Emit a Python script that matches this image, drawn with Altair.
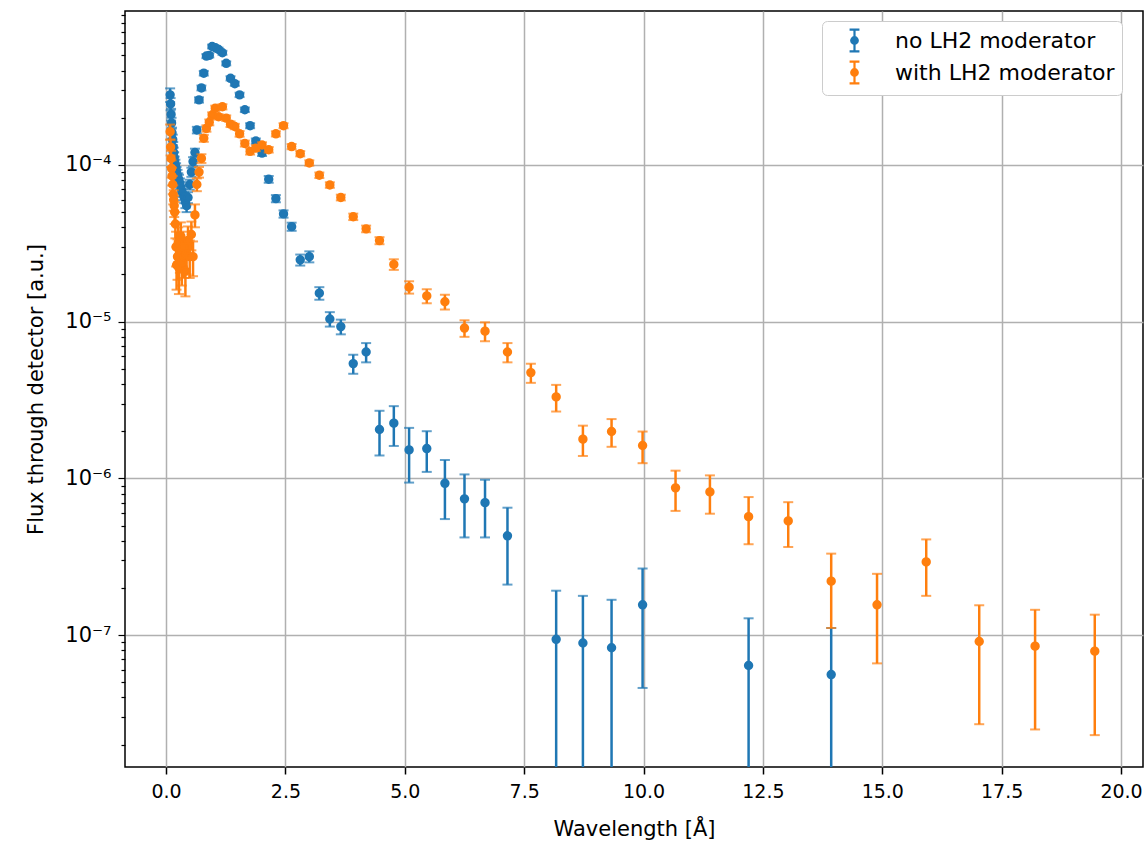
import altair as alt
import pandas as pd

# Wavelength bin centres [Å] (shared by both series)
wavelength = [
    0.085, 0.095, 0.105, 0.115, 0.125, 0.14, 0.15, 0.16, 0.17, 0.18,
    0.195, 0.21, 0.22, 0.24, 0.255, 0.27, 0.29, 0.31, 0.33, 0.355,
    0.38, 0.405, 0.43, 0.46, 0.495, 0.53, 0.565, 0.605, 0.645, 0.69,
    0.74, 0.79, 0.845, 0.905, 0.965, 1.03, 1.10, 1.18, 1.26, 1.35,
    1.44, 1.54, 1.65, 1.76, 1.88, 2.01, 2.15, 2.30, 2.46, 2.63,
    2.81, 3.00, 3.21, 3.43, 3.66, 3.92, 4.19, 4.47, 4.77, 5.09,
    5.46, 5.84, 6.25, 6.68, 7.15, 7.64, 8.17, 8.73, 9.33, 9.98,
    10.67, 11.39, 12.20, 13.03, 13.93, 14.89, 15.92, 17.03, 18.20, 19.45,
]

# no LH2 moderator (None = no visible point)
flux_no = [
    2.8e-4, 2.45e-4, 2.1e-4, 1.85e-4, 1.6e-4, 1.45e-4, 1.3e-4, 1.2e-4, 1.12e-4, 1.05e-4,
    1.0e-4, 9.5e-5, 9.0e-5, 8.6e-5, 8.2e-5, 8.0e-5, 7.6e-5, 7.2e-5, 6.8e-5, 6.5e-5,
    6.2e-5, 5.8e-5, 5.5e-5, 6.2e-5, 7.5e-5, 9.0e-5, 1.05e-4, 1.2e-4, 1.67e-4, 2.6e-4,
    3.1e-4, 3.85e-4, 4.95e-4, 5.0e-4, 5.7e-4, 5.6e-4, 5.45e-4, 5.2e-4, 4.45e-4, 3.57e-4,
    3.3e-4, 2.8e-4, 2.25e-4, 1.78e-4, 1.42e-4, 1.19e-4, 8.1e-5, 6.1e-5, 4.87e-5, 4.04e-5,
    2.48e-5, 2.6e-5, 1.52e-5, 1.04e-5, 9.3e-6, 5.4e-6, 6.4e-6, 2.05e-6, 2.25e-6, 1.52e-6,
    1.55e-6, 9.3e-7, 7.4e-7, 7.0e-7, 4.3e-7, None, 9.4e-8, 8.9e-8, 8.3e-8, 1.56e-7,
    None, None, 6.4e-8, None, 5.6e-8, None, None, None, None, None,
]
err_no = [
    2.8e-5, 2.2e-5, 1.8e-5, 1.5e-5, 1.3e-5, 1.1e-5, 1.0e-5, 9.0e-6, 8.5e-6, 8.0e-6,
    8.0e-6, 7.5e-6, 7.0e-6, 7.0e-6, 6.5e-6, 6.5e-6, 6.0e-6, 6.0e-6, 5.5e-6, 5.5e-6,
    5.0e-6, 5.0e-6, 5.0e-6, 5.0e-6, 5.5e-6, 6.0e-6, 7.0e-6, 7.0e-6, 8.0e-6, 1.0e-5,
    1.1e-5, 1.3e-5, 1.5e-5, 1.5e-5, 1.6e-5, 1.6e-5, 1.5e-5, 1.5e-5, 1.3e-5, 1.1e-5,
    1.0e-5, 9.0e-6, 7.5e-6, 6.5e-6, 5.5e-6, 5.0e-6, 4.0e-6, 3.2e-6, 2.6e-6, 2.4e-6,
    2.0e-6, 2.1e-6, 1.4e-6, 1.1e-6, 1.0e-6, 7.5e-7, 9.0e-7, 6.5e-7, 6.4e-7, 5.8e-7,
    4.5e-7, 3.8e-7, 3.2e-7, 2.8e-7, 2.2e-7, None, 9.8e-8, 8.9e-8, 8.5e-8, 1.1e-7,
    None, None, 6.4e-8, None, 5.5e-8, None, None, None, None, None,
]

# with LH2 moderator
flux_lh2 = [
    1.63e-4, 1.3e-4, 1.1e-4, 9.5e-5, 8.5e-5, 7.5e-5, 6.5e-5, 6.0e-5, 5.5e-5, 5.0e-5,
    4.2e-5, 3.0e-5, 2.3e-5, 2.6e-5, 3.2e-5, 2.2e-5, 2.8e-5, 3.5e-5, 2.4e-5, 3.0e-5,
    2.6e-5, 2.1e-5, 2.7e-5, 3.3e-5, 2.6e-5, 3.6e-5, 2.6e-5, 4.8e-5, 7.5e-5, 9.0e-5,
    1.1e-4, 1.48e-4, 1.71e-4, 1.87e-4, 2.08e-4, 2.3e-4, 2.03e-4, 2.35e-4, 1.99e-4, 1.82e-4,
    1.76e-4, 1.58e-4, 1.37e-4, 1.22e-4, 1.28e-4, 1.34e-4, 1.25e-4, 1.58e-4, 1.78e-4, 1.31e-4,
    1.18e-4, 1.03e-4, 8.6e-5, 7.45e-5, 6.2e-5, 4.67e-5, 3.91e-5, 3.29e-5, 2.32e-5, 1.66e-5,
    1.46e-5, 1.34e-5, 9.1e-6, 8.7e-6, 6.4e-6, 4.73e-6, 3.31e-6, 1.78e-6, 1.99e-6, 1.62e-6,
    8.7e-7, 8.2e-7, 5.7e-7, 5.35e-7, 2.21e-7, 1.56e-7, 2.93e-7, 9.1e-8, 8.5e-8, 7.9e-8,
]
err_lh2 = [
    1.8e-5, 1.5e-5, 1.3e-5, 1.2e-5, 1.1e-5, 1.0e-5, 9.0e-6, 9.0e-6, 8.5e-6, 8.0e-6,
    8.0e-6, 7.5e-6, 7.0e-6, 7.5e-6, 8.0e-6, 7.0e-6, 7.5e-6, 8.0e-6, 7.0e-6, 7.5e-6,
    7.0e-6, 6.5e-6, 7.0e-6, 7.5e-6, 7.0e-6, 7.5e-6, 6.5e-6, 8.0e-6, 7.0e-6, 7.0e-6,
    7.0e-6, 7.5e-6, 8.0e-6, 8.0e-6, 8.5e-6, 9.0e-6, 8.0e-6, 9.0e-6, 8.0e-6, 7.5e-6,
    7.0e-6, 6.5e-6, 6.0e-6, 5.5e-6, 5.5e-6, 5.5e-6, 5.0e-6, 6.0e-6, 6.5e-6, 5.0e-6,
    4.5e-6, 4.0e-6, 3.5e-6, 3.0e-6, 2.6e-6, 2.2e-6, 1.9e-6, 1.7e-6, 1.8e-6, 1.5e-6,
    1.5e-6, 1.45e-6, 1.1e-6, 1.2e-6, 9.0e-7, 6.6e-7, 6.4e-7, 3.9e-7, 4.0e-7, 3.7e-7,
    2.5e-7, 2.25e-7, 1.9e-7, 1.7e-7, 1.1e-7, 9.0e-8, 1.15e-7, 6.4e-8, 6.0e-8, 5.6e-8,
]

series_names = ["no LH2 moderator", "with LH2 moderator"]
series_colors = ["#1f77b4", "#ff7f0e"]

x_ticks = [0.0, 2.5, 5.0, 7.5, 10.0, 12.5, 15.0, 17.5, 20.0]
y_major_ticks = [1e-7, 1e-6, 1e-5, 1e-4]
y_minor_mults = [2, 3, 4, 5, 6, 7, 8, 9]
x_domain = [-0.86, 20.46]
y_domain = [1.44e-8, 9.6e-4]

FLOOR = 1e-10  # lower error limit below zero is clipped away on log axis


def make_frame(name, ys, es):
    rows = []
    for x, y, e in zip(wavelength, ys, es):
        if y is None:
            continue
        lo = y - e
        rows.append({
            "series": name,
            "wavelength": x,
            "flux": y,
            "lo": lo if lo > 0 else FLOOR,
            "hi": y + e,
            "lo_ok": lo > 0,
        })
    return pd.DataFrame(rows)


frames = [make_frame(series_names[0], flux_no, err_no),
          make_frame(series_names[1], flux_lh2, err_lh2)]

y_values = []
for d in [1e-8] + y_major_ticks:
    y_values.append(d)
    for m in y_minor_mults:
        y_values.append(m * d)
y_values = [v for v in y_values if y_domain[0] <= v <= y_domain[1]]

major_test = "abs(log(datum.value)/LN10 - round(log(datum.value)/LN10)) < 0.001"
exp_expr = "round(log(datum.value)/LN10)"
label_expr = (
    f"{major_test} ? ({exp_expr} == -4 ? '10⁻⁴' : {exp_expr} == -5 ? '10⁻⁵' : "
    f"{exp_expr} == -6 ? '10⁻⁶' : {exp_expr} == -7 ? '10⁻⁷' : '') : ''"
)

xscale = alt.Scale(domain=x_domain, nice=False, zero=False)
yscale = alt.Scale(type="log", domain=y_domain, nice=False)

x_axis = alt.Axis(
    values=x_ticks, format=".1f", title="Wavelength [Å]",
    grid=True, gridColor="#b0b0b0", gridWidth=1.5,
    tickSize=7, tickWidth=1.5, tickColor="black", domain=False,
    labelFontSize=19, titleFontSize=21, labelPadding=8,
    titleY=62, titleBaseline="middle",
    labelColor="black", titleColor="black", titleFontWeight="normal",
    labelFont="DejaVu Sans", titleFont="DejaVu Sans", labelFlush=False,
)
y_axis = alt.Axis(
    values=y_values, labelExpr=label_expr, title="Flux through detector  [a.u.]",
    grid=True, gridColor="#b0b0b0", gridWidth=1.5,
    gridOpacity={"condition": {"test": major_test, "value": 1}, "value": 0},
    tickSize={"condition": {"test": major_test, "value": 7}, "value": 4},
    tickWidth=1.2, tickColor="black", domain=False,
    labelFontSize=21, titleFontSize=21, labelPadding=7,
    titleX=-89, titleBaseline="middle",
    labelColor="black", titleColor="black", titleFontWeight="normal",
    labelFont="DejaVu Sans", titleFont="DejaVu Sans", labelFlush=False,
    labelOverlap=False,
)

errbar_path = ("M0,-1L0,1M-0.45,-1L0.45,-1M-0.45,1L0.45,1"
               "M-0.3,0A0.3,0.3 0 1,0 0.3,0A0.3,0.3 0 1,0 -0.3,0Z")

color_scale = alt.Scale(domain=series_names, range=series_colors)
legend = alt.Legend(
    title=None, orient="none", legendX=697, legendY=10,
    symbolType=errbar_path, symbolSize=480, symbolStrokeWidth=2.2,
    labelFontSize=22, labelFont="DejaVu Sans", labelColor="black",
    fillColor="white", strokeColor="#cccccc", cornerRadius=5,
    padding=7, rowPadding=1, symbolOffset=13, labelOffset=28,
    labelLimit=400,
)

layers = []
for i, df in enumerate(frames):
    col = series_colors[i]
    base = alt.Chart(df)
    rules = base.mark_rule(color=col, strokeWidth=2.5, clip=True).encode(
        x=alt.X("wavelength:Q", scale=xscale, axis=x_axis),
        y=alt.Y("lo:Q", scale=yscale, axis=y_axis),
        y2="hi:Q",
    )
    caps_hi = base.mark_tick(color=col, orient="horizontal", size=10,
                             thickness=2, clip=True).encode(
        x=alt.X("wavelength:Q", scale=xscale),
        y=alt.Y("hi:Q", scale=yscale),
    )
    caps_lo = base.transform_filter("datum.lo_ok").mark_tick(
        color=col, orient="horizontal", size=10, thickness=2, clip=True).encode(
        x=alt.X("wavelength:Q", scale=xscale),
        y=alt.Y("lo:Q", scale=yscale),
    )
    pts = base.mark_point(filled=True, shape="circle", size=55, opacity=1,
                          clip=True).encode(
        x=alt.X("wavelength:Q", scale=xscale),
        y=alt.Y("flux:Q", scale=yscale),
        fill=alt.Fill("series:N", scale=color_scale, legend=legend),
        stroke=alt.Stroke("series:N", scale=color_scale, legend=legend),
    )
    layers += [rules, caps_hi, caps_lo, pts]

chart = alt.layer(*layers).properties(
    width=1018, height=756,
    autosize=alt.AutoSizeParams(type="none"),
    padding={"left": 125, "top": 11, "right": 5, "bottom": 80},
    background="white",
).configure_view(stroke="black", strokeWidth=1.5)

chart.save("out.html", embed_options={"renderer": "svg", "actions": False})
